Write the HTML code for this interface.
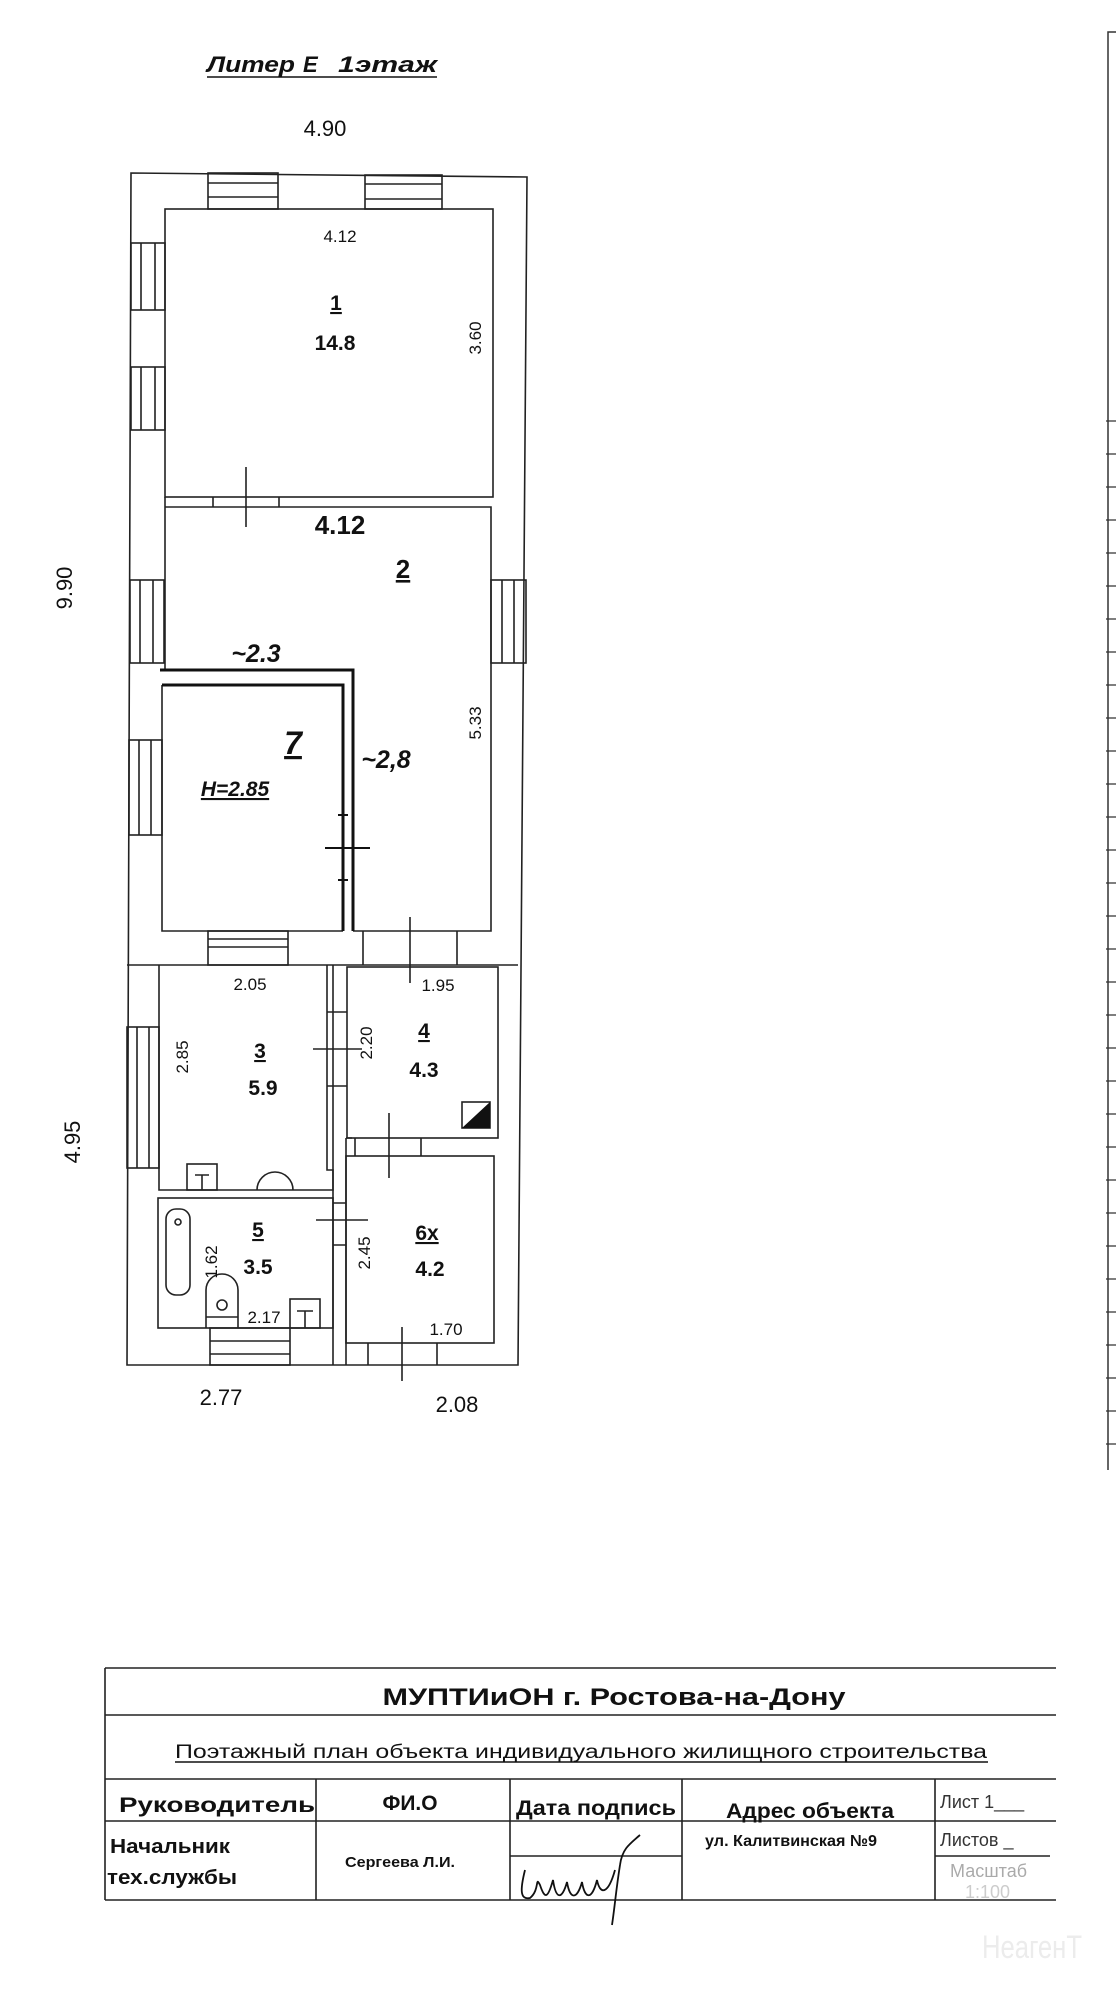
<!DOCTYPE html>
<html><head><meta charset="utf-8"><style>
html,body{margin:0;padding:0;background:#fff}
svg{display:block}
text{font-family:"Liberation Sans",sans-serif}
</style></head><body>
<svg width="1116" height="2000" viewBox="0 0 1116 2000" xmlns="http://www.w3.org/2000/svg">
<rect width="1116" height="2000" fill="#fff"/>
<!-- right edge -->
<g stroke="#333" stroke-width="1.5" fill="none">
<path d="M1118 32 H1108 V1470"/>
</g>
<g stroke="#333" stroke-width="1.3">
<path d="M1106 421H1116M1106 454H1116M1106 487H1116M1106 520H1116M1106 553H1116M1106 586H1116M1106 619H1116M1106 652H1116M1106 685H1116M1106 718H1116M1106 751H1116M1106 784H1116M1106 817H1116M1106 850H1116M1106 883H1116M1106 916H1116M1106 949H1116M1106 982H1116M1106 1015H1116M1106 1048H1116M1106 1081H1116M1106 1114H1116M1106 1147H1116M1106 1180H1116M1106 1213H1116M1106 1246H1116M1106 1279H1116M1106 1312H1116M1106 1345H1116M1106 1378H1116M1106 1411H1116M1106 1444H1116"/>
</g>

<g fill="#111">
<g font-size="22" font-style="italic" font-weight="bold">
<text x="207" y="72" textLength="88" lengthAdjust="spacingAndGlyphs">Литер</text>
<text x="303" y="72">Е</text>
<text x="338" y="72" textLength="99" lengthAdjust="spacingAndGlyphs">1этаж</text>
</g>
<line x1="207" y1="77" x2="437" y2="77" stroke="#111" stroke-width="1.6"/>
<text x="325" y="136" font-size="22" text-anchor="middle">4.90</text>
<text transform="translate(72,588) rotate(-90)" font-size="22" text-anchor="middle">9.90</text>
<text transform="translate(80,1142) rotate(-90)" font-size="22" text-anchor="middle">4.95</text>
<text x="221" y="1405" font-size="22" text-anchor="middle">2.77</text>
<text x="457" y="1412" font-size="22" text-anchor="middle">2.08</text>
</g>

<g stroke="#222" stroke-width="1.6" fill="none">
<path d="M131 173 L527 177 L518 1365 L127 1365 Z"/>
<rect x="165" y="209" width="328" height="288"/>
<path d="M165 507 H491 V931 H353"/>
<path d="M165 507 V670"/>
<path d="M162 685 V931 H343"/>
<path d="M127 965 H518"/>
<path d="M159 965 V1190 H333 V1170 H327 V965"/>
<rect x="347" y="967" width="151" height="171"/>
<rect x="346" y="1156" width="148" height="187"/>
<rect x="158" y="1198" width="175" height="130"/>
<path d="M333 965 V1328 M346 1138 V1365 M352 1138 H346 M333 1328 V1365"/>
<rect x="208" y="173" width="70" height="36"/><path d="M208 183 H278 M208 197 H278"/>
<rect x="365" y="175" width="77" height="34"/><path d="M365 184 H442 M365 199 H442"/>
<rect x="131" y="243" width="34" height="67"/><path d="M141 243 V310 M155 243 V310"/>
<rect x="131" y="367" width="34" height="63"/><path d="M141 367 V430 M155 367 V430"/>
<rect x="130" y="580" width="34" height="83"/><path d="M140 580 V663 M153 580 V663"/>
<rect x="129" y="740" width="33" height="95"/><path d="M139 740 V835 M151 740 V835"/>
<rect x="491" y="580" width="35" height="83"/><path d="M502 580 V663 M514 580 V663"/>
<rect x="208" y="931" width="80" height="34"/><path d="M208 939 H288 M208 947 H288"/>
<path d="M363 931 V965 M457 931 V965"/>
<rect x="127" y="1027" width="32" height="141"/><path d="M137 1027 V1168 M149 1027 V1168"/>
<rect x="210" y="1328" width="80" height="37"/><path d="M210 1341 H290 M210 1354 H290"/>
<path d="M368 1343 V1365 M437 1343 V1365"/>
<path d="M327 1012 H347 M327 1086 H347 M333 1203 H346 M333 1245 H346"/>
<path d="M355 1138 V1156 M421 1138 V1156"/>
<path d="M165 497 V507 M213 497 V507 M279 497 V507"/>
<path d="M246 467 V527 M410 917 V983 M313 1049 H362 M389 1113 V1178 M316 1220 H368 M402 1327 V1381"/>
<rect x="187" y="1164" width="30" height="26"/><path d="M195 1175 H209 M202 1175 V1190"/>
<path d="M257 1190 A18 18 0 0 1 293 1190"/>
<rect x="166" y="1209" width="24" height="86" rx="10"/><circle cx="178" cy="1222" r="3"/>
<path d="M206 1328 V1290 A16 16 0 0 1 238 1290 V1328 M206 1317 H238"/><circle cx="222" cy="1305" r="5"/>
<rect x="290" y="1299" width="30" height="29"/><path d="M297 1311 H313 M305 1311 V1328"/>
<rect x="462" y="1102" width="28" height="26"/>
</g>
<path d="M462 1128 L490 1102 V1128 Z" fill="#111"/>
<g stroke="#111" stroke-width="3" fill="none">
<path d="M160 670 H353 V931"/>
<path d="M162 685 H343 V931"/>
</g>
<path d="M325 848 H370" stroke="#111" stroke-width="2"/>
<path d="M338 815 H348 M338 880 H348" stroke="#111" stroke-width="2"/>

<g font-size="17" text-anchor="middle" fill="#111">
<text x="340" y="242">4.12</text>
<text transform="translate(481,338) rotate(-90)">3.60</text>
<text transform="translate(481,723) rotate(-90)">5.33</text>
<text x="250" y="990">2.05</text>
<text x="438" y="991">1.95</text>
<text transform="translate(188,1057) rotate(-90)">2.85</text>
<text transform="translate(372,1043) rotate(-90)">2.20</text>
<text transform="translate(217,1262) rotate(-90)">1.62</text>
<text transform="translate(370,1253) rotate(-90)">2.45</text>
<text x="264" y="1323">2.17</text>
<text x="446" y="1335">1.70</text>
</g>
<g font-size="21" font-weight="bold" text-anchor="middle" fill="#111">
<text x="336" y="310" text-decoration="underline">1</text>
<text x="335" y="350">14.8</text>
<text x="340" y="534" font-size="26">4.12</text>
<text x="403" y="578" font-size="26" text-decoration="underline">2</text>
<text x="256" y="662" font-size="25" font-style="italic">~2.3</text>
<text x="293" y="754" font-size="32" font-style="italic" text-decoration="underline">7</text>
<text x="386" y="768" font-size="25" font-style="italic">~2,8</text>
<text x="235" y="796" font-size="21" font-style="italic" text-decoration="underline">H=2.85</text>
<text x="260" y="1058" text-decoration="underline">3</text>
<text x="263" y="1095">5.9</text>
<text x="424" y="1038" text-decoration="underline">4</text>
<text x="424" y="1077">4.3</text>
<text x="258" y="1237" text-decoration="underline">5</text>
<text x="258" y="1274">3.5</text>
<text x="427" y="1240" text-decoration="underline">6х</text>
<text x="430" y="1276">4.2</text>
</g>

<g stroke="#222" stroke-width="1.6" fill="none">
<path d="M105 1668 H1056 M105 1715 H1056 M105 1779 H1056 M105 1821 H1056 M105 1900 H1056 M105 1668 V1900"/>
<path d="M316 1779 V1900 M510 1779 V1900 M682 1779 V1900 M935 1779 V1900 M510 1856 H682 M935 1856 H1050"/>
</g>
<g stroke="#111" stroke-width="1.8" fill="none">
<path d="M640 1835 C628 1845 622 1850 620 1865 C616 1890 615 1905 612 1925"/>
<path d="M525 1870 C520 1890 520 1900 530 1898 C540 1890 535 1875 540 1885 C545 1900 548 1898 553 1880 C556 1900 562 1900 567 1882 C570 1900 577 1900 582 1882 C585 1900 592 1900 597 1880 C600 1895 608 1895 615 1870"/>
</g>
<g text-anchor="middle" fill="#111" font-weight="bold">
<text x="614" y="1705" font-size="24" textLength="463" lengthAdjust="spacingAndGlyphs">МУПТИиОН г. Ростова-на-Дону</text>
<text x="581" y="1758" font-size="19" font-weight="normal" textLength="812" lengthAdjust="spacingAndGlyphs">Поэтажный  план объекта индивидуального жилищного строительства</text>
<line x1="175" y1="1762" x2="988" y2="1762" stroke="#111" stroke-width="1.6"/>
<text x="217" y="1812" font-size="21" textLength="196" lengthAdjust="spacingAndGlyphs">Руководитель</text>
<text x="410" y="1810" font-size="21" textLength="55" lengthAdjust="spacingAndGlyphs">ФИ.О</text>
<text x="596" y="1815" font-size="21" textLength="160" lengthAdjust="spacingAndGlyphs">Дата подпись</text>
<text x="810" y="1818" font-size="21" textLength="168" lengthAdjust="spacingAndGlyphs">Адрес объекта</text>
<text x="170" y="1853" font-size="20" textLength="120" lengthAdjust="spacingAndGlyphs">Начальник</text>
<text x="172" y="1884" font-size="20" textLength="130" lengthAdjust="spacingAndGlyphs">тех.службы</text>
<text x="400" y="1867" font-size="15" textLength="110" lengthAdjust="spacingAndGlyphs">Сергеева Л.И.</text>
<text x="791" y="1846" font-size="16" textLength="172" lengthAdjust="spacingAndGlyphs">ул. Калитвинская №9</text>
</g>
<g font-size="18" fill="#333">
<text x="940" y="1808">Лист 1___</text>
<text x="940" y="1846">Листов _</text>
<text x="950" y="1877" fill="#aaa">Масштаб</text>
<text x="965" y="1898" fill="#ccc">1:100</text>
</g>
<text x="982" y="1958" font-size="32" fill="#ececec" textLength="100" lengthAdjust="spacingAndGlyphs">НеагенТ</text>
</svg>
</body></html>
